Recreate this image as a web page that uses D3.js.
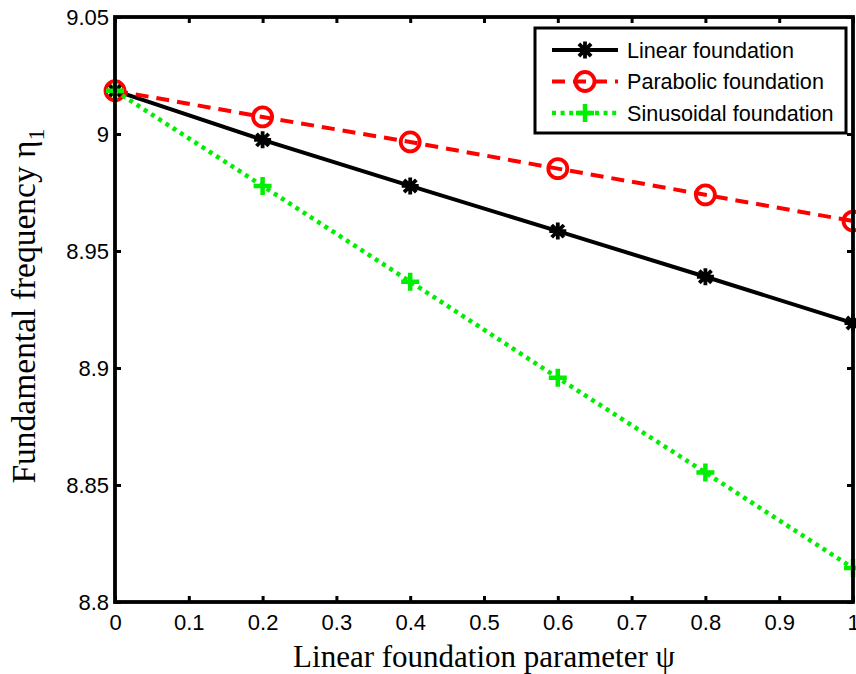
<!DOCTYPE html>
<html><head><meta charset="utf-8">
<script src="https://cdn.jsdelivr.net/npm/d3@7"></script>
<style>body{margin:0;background:#fff}svg{display:block}</style>
</head><body>
<script>
const xValues = [0, 0.2, 0.4, 0.6, 0.8, 1.0];
const linearVals = [9.0185, 8.9975, 8.9778, 8.9585, 8.9390, 8.9192];
const parabolicVals = [9.0185, 9.0073, 8.9966, 8.9852, 8.9740, 8.9628];
const sinusoidalVals = [9.0185, 8.9778, 8.9369, 8.8958, 8.8553, 8.8145];
const xTicks = [0, 0.1, 0.2, 0.3, 0.4, 0.5, 0.6, 0.7, 0.8, 0.9, 1];
const yTicks = [8.8, 8.85, 8.9, 8.95, 9, 9.05];
const seriesNames = ["Linear foundation", "Parabolic foundation", "Sinusoidal foundation"];

const W = 856, H = 674;
const m = {left: 115, right: 853, top: 17, bottom: 602};
const svg = d3.select("body").append("svg").attr("width", W).attr("height", H);
const x = d3.scaleLinear().domain([0, 1]).range([m.left, m.right]);
const y = d3.scaleLinear().domain([8.8, 9.05]).range([m.bottom, m.top]);

const series = [
  {name: seriesNames[0], vals: linearVals, color: "#000", dash: null, marker: "star"},
  {name: seriesNames[1], vals: parabolicVals, color: "#ff0000", dash: "13,8", marker: "circle"},
  {name: seriesNames[2], vals: sinusoidalVals, color: "#00ee00", dash: "4,4.6", marker: "plus"}
];

function drawMarker(g, type, cx, cy, color) {
  if (type === "circle") {
    g.append("circle").attr("cx", cx).attr("cy", cy).attr("r", 9.5)
      .attr("fill", "none").attr("stroke", color).attr("stroke-width", 3.8);
  } else if (type === "plus") {
    g.append("path").attr("d", `M${cx-9},${cy}H${cx+9}M${cx},${cy-9}V${cy+9}`)
      .attr("stroke", color).attr("stroke-width", 4.5).attr("fill", "none");
  } else {
    const r = 8.5, d = r * 0.72;
    g.append("path").attr("d", `M${cx-r},${cy}H${cx+r}M${cx},${cy-r}V${cy+r}M${cx-d},${cy-d}L${cx+d},${cy+d}M${cx-d},${cy+d}L${cx+d},${cy-d}`)
      .attr("stroke", color).attr("stroke-width", 3.8).attr("fill", "none");
    g.append("circle").attr("cx", cx).attr("cy", cy).attr("r", 4).attr("fill", color);
  }
}

const line = d3.line().x((d, i) => x(xValues[i])).y(d => y(d));
const plot = svg.append("g");
series.forEach(s => {
  plot.append("path").datum(s.vals).attr("d", line).attr("fill", "none")
    .attr("stroke", s.color).attr("stroke-width", s.marker === "plus" ? 4.5 : 4)
    .attr("stroke-dasharray", s.dash);
  s.vals.forEach((v, i) => drawMarker(plot, s.marker, x(xValues[i]), y(v), s.color));
});

// axes
const fontTick = "'Liberation Sans', Arial, sans-serif";
const xAxis = svg.append("g").attr("transform", `translate(0,${m.bottom})`)
  .call(d3.axisBottom(x).tickValues(xTicks).tickFormat(d => d3.format("")(d)).tickSize(-6).tickPadding(12));
const xAxisTop = svg.append("g").attr("transform", `translate(0,${m.top})`)
  .call(d3.axisTop(x).tickValues(xTicks).tickFormat("").tickSize(-6));
const yAxis = svg.append("g").attr("transform", `translate(${m.left},0)`)
  .call(d3.axisLeft(y).tickValues(yTicks).tickFormat(d => d3.format("")(d)).tickSize(-6).tickPadding(12));
const yAxisR = svg.append("g").attr("transform", `translate(${m.right},0)`)
  .call(d3.axisRight(y).tickValues(yTicks).tickFormat("").tickSize(-6));
[xAxis, xAxisTop, yAxis, yAxisR].forEach(a => {
  a.select(".domain").remove();
  a.selectAll(".tick line").attr("stroke", "#000").attr("stroke-width", 3);
  a.selectAll("text").attr("font-family", fontTick).attr("font-size", 22).attr("fill", "#000");
});
xAxis.selectAll("text").attr("dy", "0.71em");
yAxis.selectAll("text").attr("dx", "6").attr("dy", "0.35em");

svg.append("rect").attr("x", m.left).attr("y", m.top)
  .attr("width", m.right - m.left).attr("height", m.bottom - m.top)
  .attr("fill", "none").attr("stroke", "#000").attr("stroke-width", 3.8);

// legend
const lg = svg.append("g");
lg.append("rect").attr("x", 535).attr("y", 28).attr("width", 311).attr("height", 105)
  .attr("fill", "#fff").attr("stroke", "#000").attr("stroke-width", 3);
series.forEach((s, i) => {
  const cy = 50 + i * 31.5;
  lg.append("line").attr("x1", 552).attr("x2", 618).attr("y1", cy).attr("y2", cy)
    .attr("stroke", s.color).attr("stroke-width", s.marker === "plus" ? 4.5 : 4)
    .attr("stroke-dasharray", s.dash);
  drawMarker(lg, s.marker, 585, cy, s.color);
  lg.append("text").attr("x", 627).attr("y", cy).attr("dy", "0.35em")
    .attr("font-family", fontTick).attr("font-size", 21.6).text(s.name);
});

// axis labels
svg.append("text").attr("x", (m.left + m.right) / 2).attr("y", 667)
  .attr("text-anchor", "middle").attr("font-family", "'Liberation Serif', 'Times New Roman', serif")
  .attr("font-size", 31).text("Linear foundation parameter ψ");
const yl = svg.append("text").attr("transform", `translate(35,306) rotate(-90)`)
  .attr("text-anchor", "middle").attr("font-family", "'Liberation Serif', 'Times New Roman', serif")
  .attr("font-size", 33.5);
yl.append("tspan").text("Fundamental frequency η");
yl.append("tspan").attr("font-size", 24).attr("dy", 9).text("1");
</script>
</body></html>
